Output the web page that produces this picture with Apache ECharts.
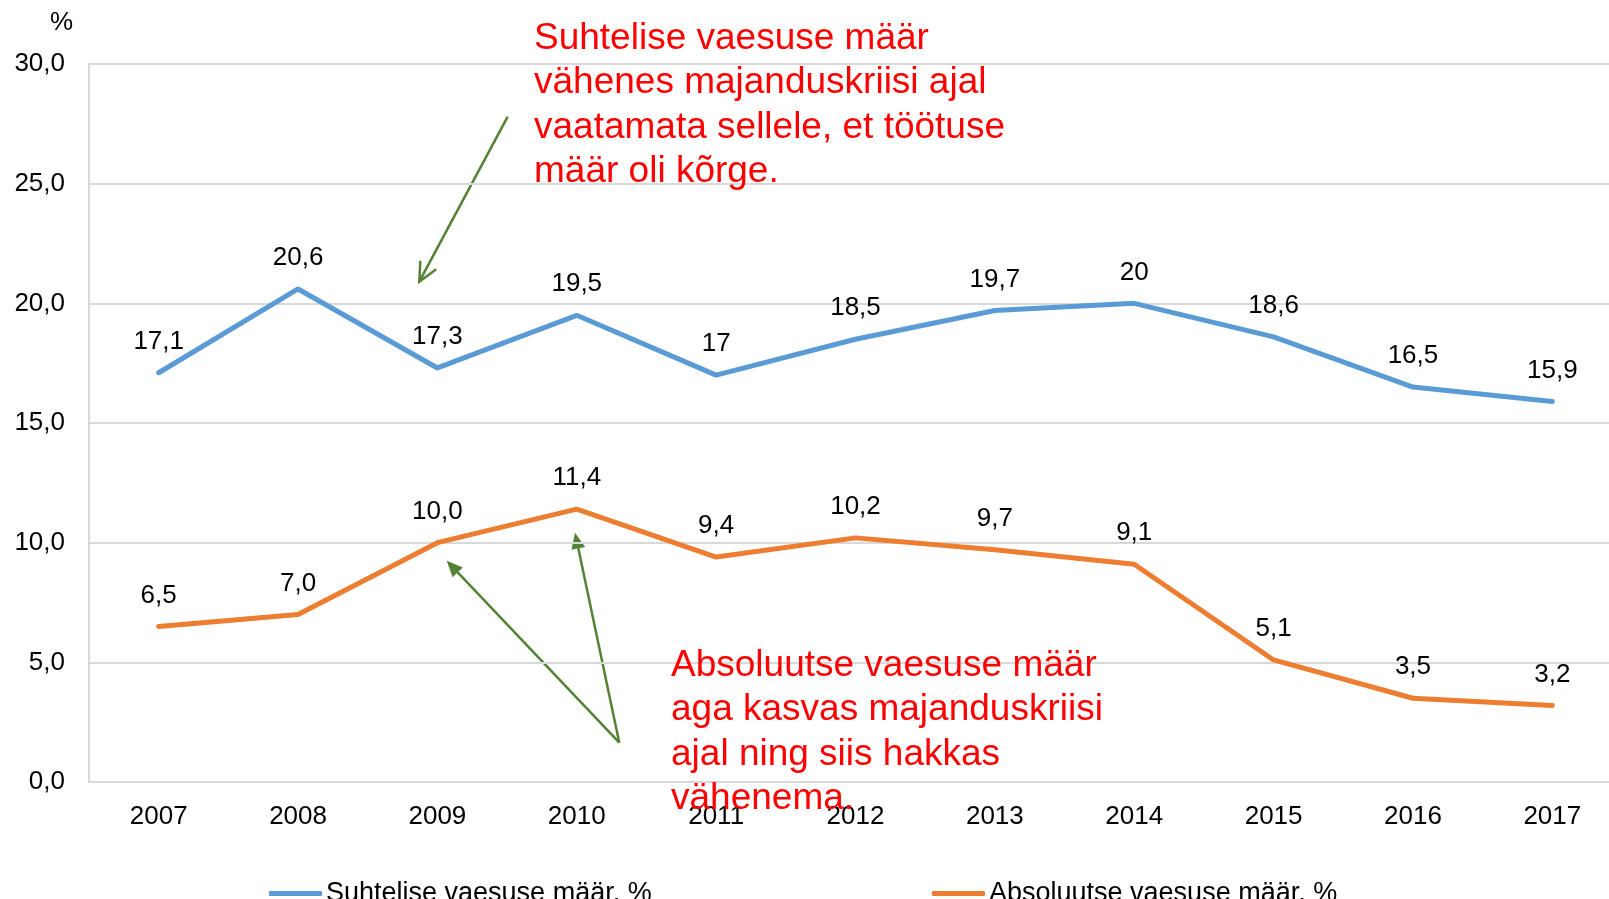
<!DOCTYPE html>
<html>
<head>
<meta charset="utf-8">
<script src="https://cdn.jsdelivr.net/npm/echarts@6/dist/echarts.min.js"></script>
<style>
html, body { margin: 0; padding: 0; background: #fff; overflow: hidden; }
#container { width: 1622px; height: 899px; }
</style>
</head>
<body>
<div id="container"></div>
<script>
var years = ['2007', '2008', '2009', '2010', '2011', '2012', '2013', '2014', '2015', '2016', '2017'];
var relativePoverty = [17.1, 20.6, 17.3, 19.5, 17, 18.5, 19.7, 20, 18.6, 16.5, 15.9];
var absolutePoverty = [6.5, 7.0, 10.0, 11.4, 9.4, 10.2, 9.7, 9.1, 5.1, 3.5, 3.2];
var seriesNames = ['Suhtelise vaesuse määr, %', 'Absoluutse vaesuse määr, %'];
var noteTop = 'Suhtelise vaesuse määr\nvähenes majanduskriisi ajal\nvaatamata sellele, et töötuse\nmäär oli kõrge.';
var noteBottom = 'Absoluutse vaesuse määr\naga kasvas majanduskriisi\najal ning siis hakkas\nvähenema.';

var FONT = 'Liberation Sans, Arial, sans-serif';
var GREEN = '#548235';

var dom = document.getElementById("container");
var myChart = echarts.init(dom);

// arrow from (x1,y1) to (x2,y2); open = V head, otherwise filled triangle
function arrow(x1, y1, x2, y2, open) {
    var dx = x2 - x1, dy = y2 - y1;
    var len = Math.sqrt(dx * dx + dy * dy);
    var ux = dx / len, uy = dy / len;
    var hl = open ? 19 : 16, hw = open ? 9 : 7;
    var bx = x2 - ux * hl, by = y2 - uy * hl;
    var p1 = [bx - uy * hw, by + ux * hw];
    var p2 = [bx + uy * hw, by - ux * hw];
    var els = [];
    if (open) {
        els.push({ type: 'polyline', shape: { points: [[x1, y1], [x2, y2]] }, style: { stroke: GREEN, lineWidth: 2.5, fill: null } });
        els.push({ type: 'polyline', shape: { points: [p1, [x2, y2], p2] }, style: { stroke: GREEN, lineWidth: 2.5, fill: null } });
    } else {
        els.push({ type: 'polyline', shape: { points: [[x1, y1], [bx, by]] }, style: { stroke: GREEN, lineWidth: 2.5, fill: null } });
        els.push({ type: 'polygon', shape: { points: [p1, [x2, y2], p2] }, style: { fill: GREEN } });
    }
    return els;
}

var graphics = [];
graphics = graphics.concat(arrow(507.7, 116.7, 419.3, 281.7, true));
graphics = graphics.concat(arrow(619.3, 742.7, 446.7, 560.7, false));
graphics = graphics.concat(arrow(619.3, 742.7, 575, 532.7, false));
graphics.push({
    type: 'text', left: 534, top: 16, z: 100,
    style: { text: noteTop, fill: '#FF0000', font: '37px ' + FONT, lineHeight: 44.6 }
});
graphics.push({
    type: 'text', left: 671, top: 643, z: 100,
    style: { text: noteBottom, fill: '#FF0000', font: '37px ' + FONT, lineHeight: 44.6 }
});

var labelStyle = { show: true, position: 'top', distance: 18, fontSize: 26, color: '#000', fontFamily: FONT };

var legendBase = {
    top: 875,
    itemWidth: 53,
    itemHeight: 5,
    itemGap: 4,
    icon: 'roundRect',
    textStyle: { fontSize: 27, color: '#000', fontFamily: FONT, padding: [0, 0, 0, -1], lineHeight: 27 }
};

var option = {
    animation: false,
    textStyle: { fontFamily: FONT },
    grid: { left: 89, right: 0, top: 64, bottom: 117, containLabel: false },
    legend: [
        Object.assign({}, legendBase, { left: 264, data: [seriesNames[0]] }),
        Object.assign({}, legendBase, { left: 927, data: [seriesNames[1]] })
    ],
    xAxis: {
        type: 'category',
        data: years,
        boundaryGap: true,
        axisLine: { show: true, lineStyle: { color: '#D9D9D9', width: 2 } },
        axisTick: { show: false },
        axisLabel: { fontSize: 26, color: '#000', margin: 22, fontFamily: FONT }
    },
    yAxis: {
        type: 'value',
        min: 0,
        max: 30,
        interval: 5,
        name: '%',
        nameLocation: 'end',
        nameGap: 41,
        nameTextStyle: { fontSize: 26, color: '#000', align: 'right', verticalAlign: 'middle', padding: [0, 16, 0, 0], fontFamily: FONT },
        axisLine: { show: true, lineStyle: { color: '#D9D9D9', width: 2 } },
        axisTick: { show: false },
        splitLine: { lineStyle: { color: '#D9D9D9', width: 2 } },
        axisLabel: {
            fontSize: 26, color: '#000', margin: 24, fontFamily: FONT,
            padding: [3, 0, 0, 0],
            formatter: function (v) { return v.toFixed(1).replace('.', ','); }
        }
    },
    series: [
        {
            name: seriesNames[0],
            type: 'line',
            data: relativePoverty,
            symbol: 'circle',
            symbolSize: 0,
            showAllSymbol: true,
            color: '#5B9BD5',
            lineStyle: { width: 5, color: '#5B9BD5', cap: 'round' },
            label: Object.assign({}, labelStyle, {
                formatter: function (p) { return String(p.value).replace('.', ','); }
            })
        },
        {
            name: seriesNames[1],
            type: 'line',
            data: absolutePoverty,
            symbol: 'circle',
            symbolSize: 0,
            showAllSymbol: true,
            color: '#ED7D31',
            lineStyle: { width: 5, color: '#ED7D31', cap: 'round' },
            label: Object.assign({}, labelStyle, {
                formatter: function (p) { return p.value.toFixed(1).replace('.', ','); }
            })
        }
    ],
    graphic: graphics
};

myChart.setOption(option, true);
</script>
</body>
</html>
